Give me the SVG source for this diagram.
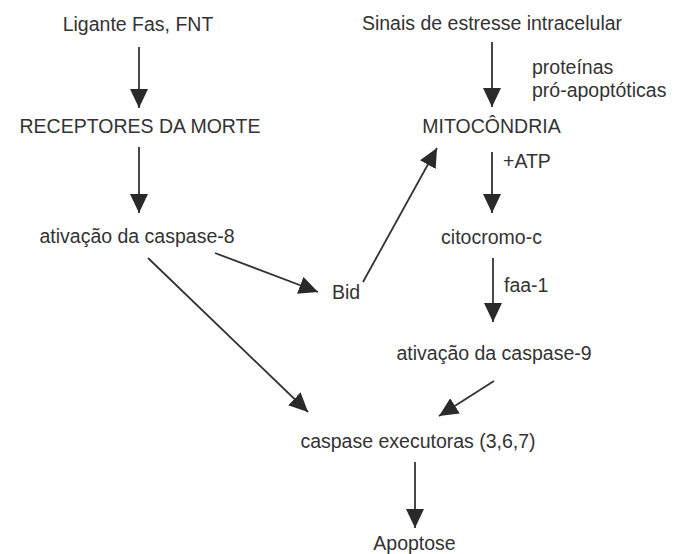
<svg xmlns="http://www.w3.org/2000/svg" width="675" height="554" viewBox="0 0 675 554">
<style>
text{font-family:"Liberation Sans",Arial,sans-serif;font-size:19.5px;fill:#333;}
.c{text-anchor:middle;}
.e line{stroke:#333;stroke-width:1.8;marker-end:url(#ah);}
</style>
<defs>
<marker id="ah" markerUnits="userSpaceOnUse" markerWidth="20" markerHeight="20" viewBox="0 0 20 20" refX="19" refY="9" orient="auto">
<path d="M0,0 L19,9 L0,18 z" fill="#2a2a2a"/>
</marker>
</defs>
<rect width="675" height="554" fill="#fff"/>
<g id="ligante"><text class="c" x="138" y="31">Ligante Fas, FNT</text></g>
<g id="receptores"><text class="c" x="140" y="133">RECEPTORES DA MORTE</text></g>
<g id="caspase8"><text class="c" x="137" y="243">ativação da caspase-8</text></g>
<g id="sinais"><text class="c" x="492" y="30">Sinais de estresse intracelular</text></g>
<g id="proteinas"><text x="532" y="74">proteínas</text><text x="532" y="97">pró-apoptóticas</text></g>
<g id="mitocondria"><text class="c" x="491.5" y="133">MITOCÔNDRIA</text></g>
<g id="atp"><text x="503" y="168">+ATP</text></g>
<g id="citocromo"><text class="c" x="491.5" y="244">citocromo-c</text></g>
<g id="faa"><text x="504" y="292">faa-1</text></g>
<g id="bid"><text x="332" y="299">Bid</text></g>
<g id="caspase9"><text class="c" x="494" y="360">ativação da caspase-9</text></g>
<g id="executoras"><text class="c" x="418" y="448">caspase executoras (3,6,7)</text></g>
<g id="apoptose"><text class="c" x="414.5" y="550">Apoptose</text></g>
<g id="connectors" class="e">
<line x1="139" y1="47" x2="139" y2="108"/>
<line x1="139" y1="147" x2="139" y2="213"/>
<line x1="492" y1="42" x2="492" y2="107"/>
<line x1="492" y1="152" x2="492" y2="213"/>
<line x1="493" y1="258" x2="493" y2="322"/>
<line x1="215" y1="253" x2="318" y2="292"/>
<line x1="363" y1="282" x2="437" y2="148"/>
<line x1="148" y1="258" x2="308" y2="412"/>
<line x1="494" y1="381" x2="439" y2="416"/>
<line x1="415" y1="462" x2="415" y2="528"/>
</g>
</svg>
